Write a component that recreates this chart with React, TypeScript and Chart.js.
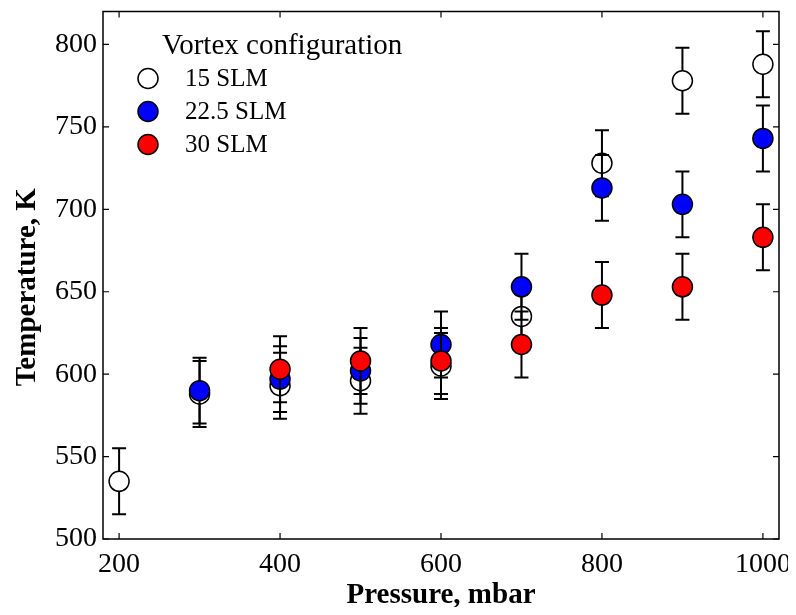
import React, { useEffect, useRef } from "react";
import { Chart, registerables } from "chart.js";

Chart.register(...registerables);

// ---------- data ----------
const xTicks = [200, 400, 600, 800, 1000];
const yTicks = [500, 550, 600, 650, 700, 750, 800];

const pressure15 = [200, 300, 400, 500, 600, 700, 800, 900, 1000];
const temp15 = [535, 588, 593, 596, 605, 635, 728, 778, 788];
const err15 = [20, 20, 20, 20, 20, 20, 20, 20, 20];

const pressure22 = [300, 400, 500, 600, 700, 800, 900, 1000];
const temp22 = [590, 597, 602, 618, 653, 713, 703, 743];
const err22 = [20, 20, 20, 20, 20, 20, 20, 20];

const pressure30 = [400, 500, 600, 700, 800, 900, 1000];
const temp30 = [603, 608, 608, 618, 648, 653, 683];
const err30 = [20, 20, 20, 20, 20, 20, 20];

const seriesLabels = ["15 SLM", "22.5 SLM", "30 SLM"];
const legendTitle = "Vortex configuration";
const xTitle = "Pressure, mbar";
const yTitle = "Temperature, K";

const FONT = "'Liberation Serif', 'Times New Roman', serif";

const errorsByDataset = [err15, err22, err30];

const toPoints = (xs: number[], ys: number[]) => xs.map((x, i) => ({ x, y: ys[i] }));

const zeroPad = (s: any) => {
  s.paddingLeft = 0;
  s.paddingRight = 0;
  s.paddingTop = 0;
  s.paddingBottom = 0;
  s.getPadding = () => ({ left: 0, top: 0, right: 0, bottom: 0 });
};

const decorPlugin = {
  id: "decor",
  beforeDatasetDraw(chart: any, args: any) {
    const ds = chart.data.datasets[args.index];
    const errs = errorsByDataset[args.index];
    if (!errs) return;
    const xs = chart.scales.x;
    const ys = chart.scales.y;
    const ctx = chart.ctx;
    ctx.save();
    ctx.strokeStyle = "#000";
    ctx.lineWidth = 2;
    ds.data.forEach((p: any, i: number) => {
      const px = xs.getPixelForValue(p.x);
      const top = ys.getPixelForValue(p.y + errs[i]);
      const bot = ys.getPixelForValue(p.y - errs[i]);
      const cap = 7;
      ctx.beginPath();
      ctx.moveTo(px, top);
      ctx.lineTo(px, bot);
      ctx.moveTo(px - cap, top);
      ctx.lineTo(px + cap, top);
      ctx.moveTo(px - cap, bot);
      ctx.lineTo(px + cap, bot);
      ctx.stroke();
    });
    ctx.restore();
  },
  afterDraw(chart: any) {
    const { ctx, chartArea } = chart;
    const { left, right, top, bottom } = chartArea;
    const xs = chart.scales.x;
    const ys = chart.scales.y;
    ctx.save();
    ctx.strokeStyle = "#000";
    ctx.lineWidth = 1.5;
    ctx.strokeRect(left, top, right - left, bottom - top);
    const tl = 6;
    ctx.lineWidth = 1.2;
    ctx.beginPath();
    xs.ticks.forEach((t: any) => {
      const px = xs.getPixelForValue(t.value);
      ctx.moveTo(px, bottom);
      ctx.lineTo(px, bottom - tl);
      ctx.moveTo(px, top);
      ctx.lineTo(px, top + tl);
    });
    ys.ticks.forEach((t: any) => {
      const py = ys.getPixelForValue(t.value);
      ctx.moveTo(left, py);
      ctx.lineTo(left + tl, py);
      ctx.moveTo(right, py);
      ctx.lineTo(right - tl, py);
    });
    ctx.stroke();

    // y axis title
    ctx.save();
    ctx.translate(28, (top + bottom) / 2 + 12);
    ctx.rotate(-Math.PI / 2);
    ctx.fillStyle = "#000";
    ctx.textAlign = "center";
    ctx.textBaseline = "middle";
    ctx.font = `bold 29px ${FONT}`;
    ctx.fillText(yTitle, 0, 0);
    ctx.restore();

    // legend
    ctx.fillStyle = "#000";
    ctx.textBaseline = "middle";
    ctx.textAlign = "left";
    ctx.font = `29px ${FONT}`;
    ctx.fillText(legendTitle, left + 59, top + 35);
    ctx.font = `25px ${FONT}`;
    chart.data.datasets.forEach((ds: any, i: number) => {
      const cy = top + 67 + i * 33;
      const cx = left + 45;
      ctx.beginPath();
      ctx.arc(cx, cy, 10, 0, Math.PI * 2);
      ctx.fillStyle = ds.backgroundColor;
      ctx.fill();
      ctx.lineWidth = 1.5;
      ctx.strokeStyle = ds.borderColor;
      ctx.stroke();
      ctx.fillStyle = "#000";
      ctx.fillText(ds.label, left + 82, cy + 1);
    });
    ctx.restore();
  },
};

export default function App() {
  const ref = useRef<HTMLCanvasElement | null>(null);
  useEffect(() => {
    if (!ref.current) return;
    const chart = new Chart(ref.current, {
      type: "scatter",
      data: {
        datasets: [
          {
            label: seriesLabels[0],
            data: toPoints(pressure15, temp15),
            backgroundColor: "#ffffff",
            borderColor: "#000000",
            pointRadius: 10,
            pointHoverRadius: 10,
            borderWidth: 1.5,
            order: 3,
          },
          {
            label: seriesLabels[1],
            data: toPoints(pressure22, temp22),
            backgroundColor: "#0000ff",
            borderColor: "#000000",
            pointRadius: 10,
            pointHoverRadius: 10,
            borderWidth: 1.5,
            order: 2,
          },
          {
            label: seriesLabels[2],
            data: toPoints(pressure30, temp30),
            backgroundColor: "#ff0000",
            borderColor: "#000000",
            pointRadius: 10,
            pointHoverRadius: 10,
            borderWidth: 1.5,
            order: 1,
          },
        ],
      },
      options: {
        responsive: false,
        animation: false,
        devicePixelRatio: 1,
        layout: { padding: { left: 0, right: 17, top: 2.5, bottom: 0 } },
        plugins: {
          legend: { display: false },
          tooltip: { enabled: false },
        },
        scales: {
          x: {
            type: "linear",
            position: "bottom",
            min: 180,
            max: 1020,
            afterBuildTicks: (s: any) => {
              s.ticks = xTicks.map((v) => ({ value: v }));
            },
            afterFit: (s: any) => {
              s.height = 76;
              zeroPad(s);
            },
            grid: { display: false, drawTicks: false },
            border: { display: false },
            ticks: {
              font: { family: FONT, size: 28 },
              color: "#000",
              padding: 9,
              maxRotation: 0,
              autoSkip: false,
              callback: (v: any) => String(v),
            },
            title: {
              display: true,
              text: xTitle,
              color: "#000",
              font: { family: FONT, size: 29, weight: "bold" },
              padding: { top: 0, bottom: 2 },
            },
          },
          y: {
            type: "linear",
            min: 500,
            max: 820,
            afterBuildTicks: (s: any) => {
              s.ticks = yTicks.map((v) => ({ value: v }));
            },
            afterFit: (s: any) => {
              s.width = 103;
              zeroPad(s);
            },
            grid: { display: false, drawTicks: false },
            border: { display: false },
            ticks: {
              font: { family: FONT, size: 28 },
              color: "#000",
              padding: 6,
              autoSkip: false,
              callback: (v: any) => String(v),
            },
            title: { display: false },
          },
        },
      },
      plugins: [decorPlugin],
    } as any);
    return () => chart.destroy();
  }, []);
  return (
    <div style={{ margin: -8, width: 796, height: 615 }}>
      <canvas ref={ref} width={796} height={615} style={{ display: "block" }} />
    </div>
  );
}
